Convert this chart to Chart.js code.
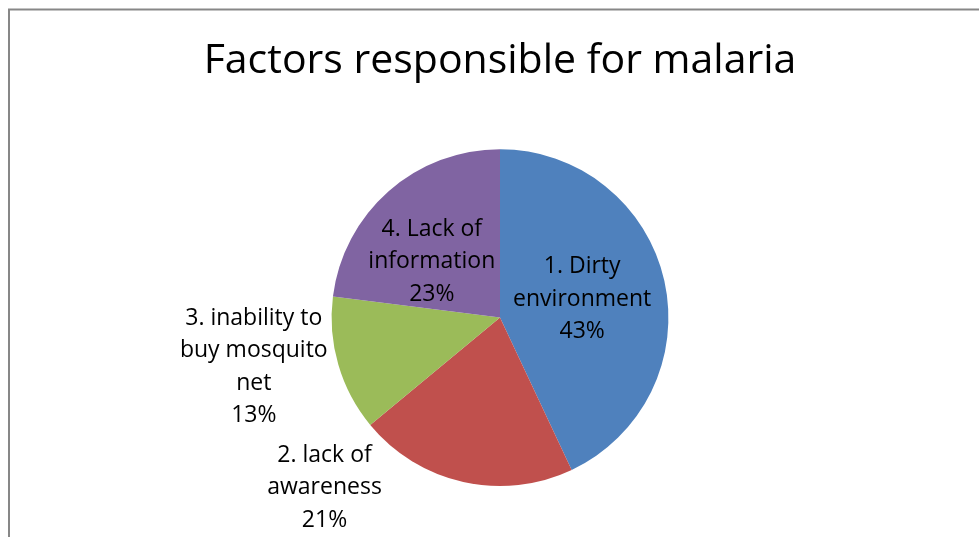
<!DOCTYPE html>
<html>
<head>
<meta charset="utf-8">
<script src="https://cdn.jsdelivr.net/npm/chart.js@4"></script>
<style>
  html, body { margin: 0; padding: 0; background: #fff; }
  #wrap { position: relative; width: 979px; height: 537px; }
</style>
</head>
<body>
<div id="wrap"><canvas id="malariaChart" width="979" height="537"></canvas></div>
<script>
const labels = ['1. Dirty environment', '2. lack of awareness', '3. inability to buy mosquito net', '4. Lack of information'];
const values = [43, 21, 13, 23];
const colors = ['#4F81BD', '#C0504D', '#9BBB59', '#8064A2'];
// label text lines as Excel wrapped them
const labelLines = [
    ['1. Dirty', 'environment'],
    ['2. lack of', 'awareness'],
    ['3. inability to', 'buy mosquito', 'net'],
    ['4. Lack of', 'information']
];
// label centre, relative to pie centre in units of radius
const labelOffsets = [[0.488, -0.11], [-1.042, 1.009], [-1.462, 0.292], [-0.405, -0.333]];

const FONT = '"Open Sans", "Liberation Sans", sans-serif';

const framePlugin = {
    id: 'frame',
    beforeDraw(chart) {
        const ctx = chart.ctx;
        ctx.save();
        ctx.fillStyle = '#fff';
        ctx.fillRect(0, 0, chart.width, chart.height);
        ctx.strokeStyle = '#878787';
        ctx.lineWidth = 2;
        ctx.beginPath();
        ctx.moveTo(9, chart.height);
        ctx.lineTo(9, 9.5);
        ctx.lineTo(chart.width, 9.5);
        ctx.stroke();
        ctx.restore();
    }
};

const labelPlugin = {
    id: 'pieLabels',
    afterDatasetsDraw(chart) {
        const ctx = chart.ctx;
        const meta = chart.getDatasetMeta(0);
        const total = values.reduce((a, b) => a + b, 0);
        ctx.save();
        ctx.fillStyle = '#000';
        ctx.font = '23px ' + FONT;
        ctx.textAlign = 'center';
        ctx.textBaseline = 'middle';
        meta.data.forEach((arc, i) => {
            const r = arc.outerRadius;
            const cx = arc.x + labelOffsets[i][0] * r;
            const cy = arc.y + labelOffsets[i][1] * r;
            const lines = labelLines[i].concat([Math.round(values[i] / total * 100) + '%']);
            const lh = 32.5;
            const top = cy - (lines.length - 1) * lh / 2;
            lines.forEach((t, j) => ctx.fillText(t, cx, top + j * lh));
        });
        ctx.restore();
    }
};

new Chart(document.getElementById('malariaChart'), {
    type: 'pie',
    data: {
        labels: labels,
        datasets: [{
            data: values,
            backgroundColor: colors,
            borderColor: '#fff',
            borderWidth: 0
        }]
    },
    options: {
        responsive: false,
        animation: false,
        layout: { padding: { top: 0, bottom: 51, left: 21, right: 0 } },
        plugins: {
            legend: { display: false },
            tooltip: { enabled: false },
            title: {
                display: true,
                text: 'Factors responsible for malaria',
                color: '#000',
                font: { family: FONT, size: 41, weight: 'normal', lineHeight: 1.2 },
                padding: { top: 37, bottom: 63 }
            }
        }
    },
    plugins: [framePlugin, labelPlugin]
});
</script>
</body>
</html>
